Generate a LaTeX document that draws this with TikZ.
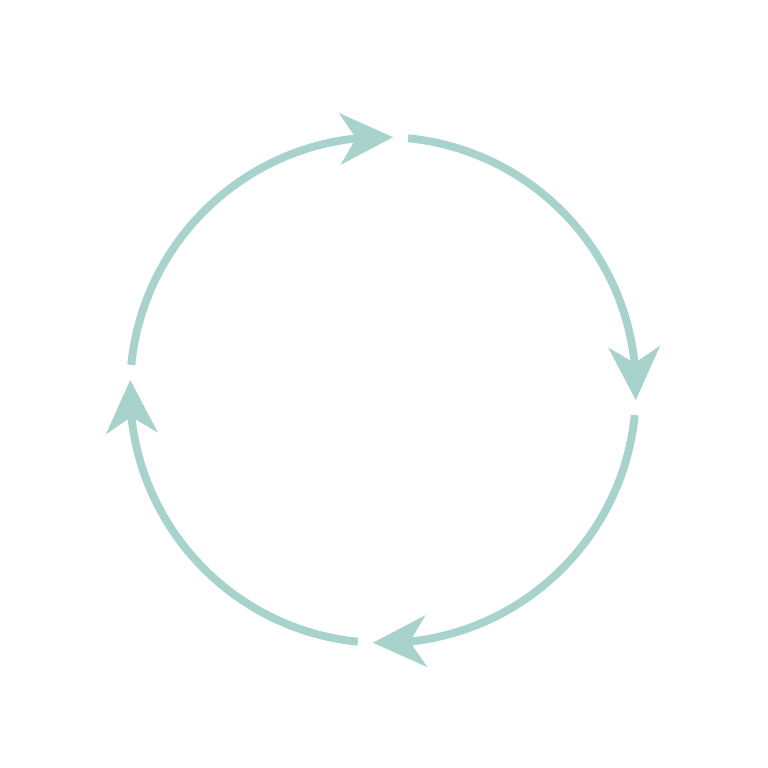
\documentclass[tikz,border=0pt]{standalone}
\usetikzlibrary{arrows.meta,bending}
\definecolor{cyclegreen}{RGB}{168,211,204}
\begin{document}
\begin{tikzpicture}[
        cyclearrow/.style={draw=cyclegreen, line width=4.5pt,
        -{Stealth[length=1.06cm,width=1.02cm,inset=0.32cm,fill=cyclegreen]}}]
        \useasboundingbox (0,0) rectangle (15.36,15.36);
        \coordinate (c) at (7.66,7.56);
        % four quarter arcs, clockwise
        \draw[cyclearrow] ([shift={(174.3:5.06)}]c) arc[start angle=174.3, end angle=87.7, radius=5.06];
        \draw[cyclearrow] ([shift={(84.3:5.06)}]c) arc[start angle=84.3, end angle=-2.3, radius=5.06];
        \draw[cyclearrow] ([shift={(-5.7:5.06)}]c) arc[start angle=-5.7, end angle=-92.3, radius=5.06];
        \draw[cyclearrow] ([shift={(-95.7:5.06)}]c) arc[start angle=-95.7, end angle=-182.3, radius=5.06];
    \end{tikzpicture}
\end{document}
